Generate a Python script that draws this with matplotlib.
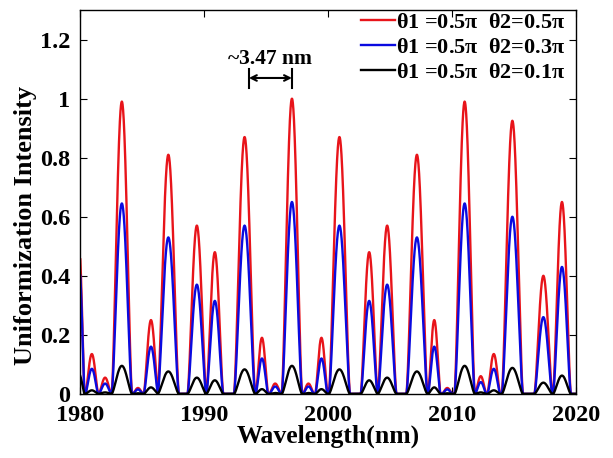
import numpy as np
import matplotlib
matplotlib.use('Agg')
import matplotlib.pyplot as plt

# lobes: centre (nm), half base width (nm), peak heights
centers = [1979.9, 1980.93, 1982.0, 1983.35, 1984.65, 1985.7, 1987.1, 1989.4,
           1990.85, 1993.25, 1994.65, 1995.72, 1997.07, 1998.4, 1999.45, 2000.9,
           2003.3, 2004.75, 2007.15, 2008.55, 2009.6, 2011.0, 2012.3, 2013.35,
           2014.85, 2017.35, 2018.85]
halfw = [0.45, 0.52, 0.5, 0.82, 0.42, 0.58, 0.85, 0.75,
         0.68, 0.85, 0.5, 0.48, 0.82, 0.45, 0.5, 0.85,
         0.68, 0.75, 0.85, 0.5, 0.42, 0.82, 0.45, 0.52,
         0.85, 0.72, 0.72]
red = [0.50, 0.135, 0.055, 0.99, 0.02, 0.25, 0.81, 0.57,
       0.48, 0.87, 0.19, 0.035, 1.0, 0.035, 0.19, 0.87,
       0.48, 0.57, 0.81, 0.25, 0.02, 0.99, 0.06, 0.135,
       0.925, 0.40, 0.65]
blue = [0.44, 0.085, 0.035, 0.645, 0.015, 0.16, 0.53, 0.37,
        0.315, 0.57, 0.12, 0.025, 0.65, 0.025, 0.12, 0.57,
        0.315, 0.37, 0.53, 0.16, 0.015, 0.645, 0.04, 0.085,
        0.60, 0.26, 0.43]
black = [0.066, 0.012, 0.005, 0.095, 0.002, 0.022, 0.076, 0.055,
         0.046, 0.083, 0.016, 0.003, 0.095, 0.003, 0.016, 0.083,
         0.046, 0.055, 0.076, 0.022, 0.002, 0.095, 0.005, 0.012,
         0.088, 0.038, 0.062]

labels = [r'$\mathbf{\theta}$1 =0.5$\mathbf{\pi}$  $\mathbf{\theta}$2=0.5$\mathbf{\pi}$',
          r'$\mathbf{\theta}$1 =0.5$\mathbf{\pi}$  $\mathbf{\theta}$2=0.3$\mathbf{\pi}$',
          r'$\mathbf{\theta}$1 =0.5$\mathbf{\pi}$  $\mathbf{\theta}$2=0.1$\mathbf{\pi}$']

plt.rcParams['font.family'] = 'Liberation Serif'
plt.rcParams['font.weight'] = 'bold'
plt.rcParams['mathtext.fontset'] = 'custom'
plt.rcParams['mathtext.rm'] = 'Liberation Serif:bold'
plt.rcParams['mathtext.bf'] = 'Liberation Serif:bold'
plt.rcParams['mathtext.it'] = 'Liberation Serif:bold'

x = np.linspace(1980, 2020, 4000)


def build(heights):
    # each lobe is a rounded cosine bump going to zero at its edges
    y = np.zeros_like(x)
    for c, w, h in zip(centers, halfw, heights):
        m = np.abs(x - c) < w
        y[m] += h * np.cos(np.pi * (x[m] - c) / (2 * w)) ** 1.5
    return y


fig = plt.figure(figsize=(6.13, 4.58), dpi=100)
ax = fig.add_axes([0.131, 0.14, 0.809, 0.838])

ax.plot(x, build(red), color='#e8141a', lw=1.7, label=labels[0])
ax.plot(x, build(blue), color='#0a0ae0', lw=1.7, label=labels[1])
ax.plot(x, build(black), color='black', lw=1.7, label=labels[2])

ax.set_xlim(1980, 2020)
ax.set_ylim(0, 1.3)
ax.set_xticks([1980, 1990, 2000, 2010, 2020])
ax.set_yticks([0, 0.2, 0.4, 0.6, 0.8, 1.0, 1.2])
ax.set_yticklabels(['0', '0.2', '0.4', '0.6', '0.8', '1', '1.2'])
ax.tick_params(direction='in', top=True, right=True, labelsize=17.5, length=5)
ax.tick_params(axis='x', pad=8)
ax.tick_params(axis='y', pad=7)
for s in ax.spines.values():
    s.set_linewidth(1.0)

ax.set_xlabel('Wavelength(nm)', fontsize=18.5, fontweight='bold', labelpad=-1)
ax.set_ylabel('Uniformization Intensity', fontsize=19, fontweight='bold')
ax.yaxis.set_label_coords(-0.088, 0.44)

# period marker
ax.annotate('', xy=(1993.6, 1.07), xytext=(1997.07, 1.07),
            arrowprops=dict(arrowstyle='<->', color='black', lw=1.5, shrinkA=0, shrinkB=0))
ax.plot([1993.6, 1993.6], [1.035, 1.10], color='black', lw=1.5)
ax.plot([1997.07, 1997.07], [1.035, 1.10], color='black', lw=1.5)
ax.text(1995.3, 1.135, '~3.47 nm', ha='center', va='center', fontsize=15.5, fontweight='bold')

ax.legend(loc='upper right', bbox_to_anchor=(0.995, 1.018), frameon=False, fontsize=16,
          handlelength=1.5, handletextpad=0.05, borderaxespad=0.0, labelspacing=0.2)

fig.savefig('out.png', dpi=100)
